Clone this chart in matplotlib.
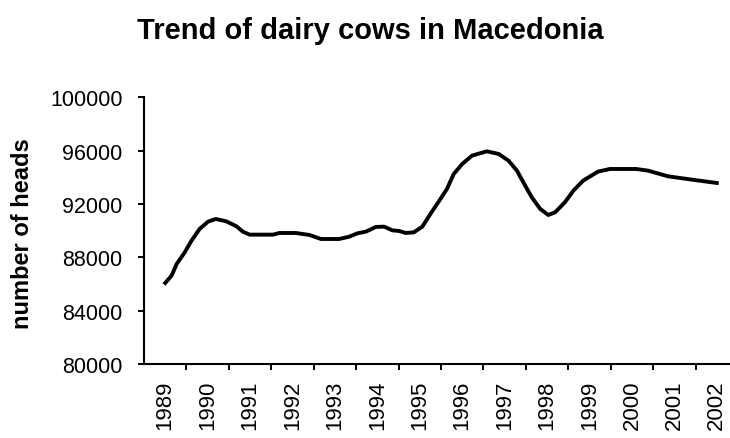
import matplotlib
matplotlib.use('Agg')
import matplotlib.pyplot as plt
from matplotlib.ticker import FixedLocator, NullFormatter

plt.rcParams['font.family'] = ['Liberation Sans', 'DejaVu Sans']

# data (decimal year, number of heads)
years = [1989, 1990, 1991, 1992, 1993, 1994, 1995,
         1996, 1997, 1998, 1999, 2000, 2001, 2002]
time = [1989.00, 1989.15, 1989.27, 1989.46, 1989.62, 1989.81, 1990.01,
        1990.19, 1990.44, 1990.68, 1990.83, 1990.99, 1991.54, 1991.69,
        1992.08, 1992.40, 1992.67, 1993.10, 1993.34, 1993.53, 1993.73,
        1993.96, 1994.16, 1994.35, 1994.51, 1994.67, 1994.86, 1995.06,
        1995.25, 1995.45, 1995.64, 1995.80, 1996.00, 1996.23, 1996.58,
        1996.86, 1997.09, 1997.29, 1997.44, 1997.64, 1997.84, 1998.03,
        1998.19, 1998.42, 1998.62, 1998.85, 1999.20, 1999.48, 2000.10,
        2000.38, 2000.85, 2001.47, 2002.00]
heads = [86075, 86625, 87500, 88375, 89250, 90125, 90675,
         90875, 90700, 90325, 89925, 89700, 89700, 89825,
         89825, 89675, 89375, 89375, 89550, 89800, 89925,
         90275, 90300, 90025, 89975, 89825, 89875, 90300,
         91250, 92200, 93125, 94250, 95000, 95625, 95950,
         95750, 95250, 94500, 93625, 92500, 91625, 91175,
         91375, 92125, 93000, 93750, 94425, 94625, 94625,
         94500, 94075, 93800, 93575]
yticks = [80000, 84000, 88000, 92000, 96000, 100000]

fig = plt.figure(figsize=(7.30, 4.39), dpi=100)
ax = fig.add_axes([144 / 730, 1 - 365 / 439, 594 / 730, 266.7 / 439])

ax.plot(time, heads, color='black', lw=2.8, solid_joinstyle='round')

ax.set_xlim(years[0] - 0.5, years[-1] + 0.5)
ax.set_ylim(yticks[0], yticks[-1])
ax.set_yticks(yticks)
ax.set_yticklabels([str(v) for v in yticks])

# category axis: tick marks between years, labels at the year centres
ax.xaxis.set_major_locator(FixedLocator([y + 0.5 for y in years[:-1]]))
ax.xaxis.set_major_formatter(NullFormatter())
ax.xaxis.set_minor_locator(FixedLocator(years))
ax.set_xticklabels([str(y) for y in years], minor=True, rotation=90)
ax.tick_params(axis='x', which='major', direction='out', length=4.5, width=1.4)
ax.tick_params(axis='x', which='minor', length=0, pad=11, labelsize=16)
ax.tick_params(axis='y', direction='out', length=4.5, width=1.4, pad=11, labelsize=15.5)

for side in ['top', 'right']:
    ax.spines[side].set_visible(False)
for side in ['left', 'bottom']:
    ax.spines[side].set_linewidth(1.5)

fig.text(370 / 730, 1 - 31 / 439, 'Trend of dairy cows in Macedonia',
         ha='center', va='center', fontsize=21, fontweight='bold')
fig.text(23 / 730, 1 - 234 / 439, 'number of heads', rotation=90,
         ha='center', va='center', fontsize=17, fontweight='bold')

fig.savefig('out.png', dpi=100)
